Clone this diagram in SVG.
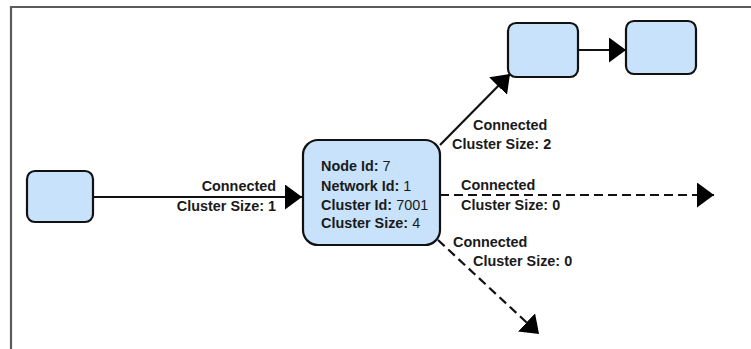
<svg xmlns="http://www.w3.org/2000/svg" width="751" height="349" viewBox="0 0 751 349">
  <style>
    .node { fill: #c8e2fb; stroke: #111111; stroke-width: 2.2; }
    .edge { fill: none; stroke: #111111; stroke-width: 2.2; marker-end: url(#arrow); }
    .dashed { stroke-dasharray: 9 5; }
    text { font-family: "Liberation Sans", Arial, sans-serif; font-size: 14.4px; fill: #1a1a1a; }
    .b { font-weight: bold; }
    .r { font-weight: normal; }
  </style>
  <defs>
    <marker id="arrow" markerUnits="userSpaceOnUse" markerWidth="18" markerHeight="26" refX="17" refY="12.5" orient="auto">
      <path d="M0,0 L17,12.5 L0,25 Z" fill="#000000"/>
    </marker>
  </defs>

  <rect width="751" height="349" fill="#ffffff"/>
  <!-- frame -->
  <path d="M11,349 V7 H751" fill="none" stroke="#5c5c5c" stroke-width="2.2"/>

  <g id="connectors">
    <path class="edge" d="M93,197 L302,197"/>
    <path class="edge" d="M578,50 L626,50"/>
    <path class="edge" d="M440,145 L510,74"/>
    <path class="edge dashed" d="M440,195 L714,195"/>
    <path class="edge dashed" d="M438,240 L539,334"/>
  </g>

  <g id="edge-labels" class="b">
    <text x="276" y="190.5" text-anchor="end">Connected</text>
    <text x="276" y="210.5" text-anchor="end">Cluster Size: 1</text>
    <text x="473" y="130">Connected</text>
    <text x="452" y="149">Cluster Size: 2</text>
    <text x="461" y="190">Connected</text>
    <text x="461" y="210">Cluster Size: 0</text>
    <text x="453" y="247">Connected</text>
    <text x="473" y="266">Cluster Size: 0</text>
  </g>

  <g id="node-left">
    <rect class="node" x="27" y="171" width="66" height="51" rx="8"/>
  </g>

  <g id="node-center">
    <rect class="node" x="303" y="140" width="137" height="105" rx="15"/>
    <text x="321" y="171"><tspan class="b">Node Id:</tspan><tspan class="r"> 7</tspan></text>
    <text x="321" y="190.5"><tspan class="b">Network Id:</tspan><tspan class="r"> 1</tspan></text>
    <text x="321" y="210"><tspan class="b">Cluster Id:</tspan><tspan class="r"> 7001</tspan></text>
    <text x="321" y="228"><tspan class="b">Cluster Size:</tspan><tspan class="r"> 4</tspan></text>
  </g>

  <g id="node-top-mid">
    <rect class="node" x="508" y="23" width="70" height="54" rx="8"/>
  </g>

  <g id="node-top-right">
    <rect class="node" x="626" y="21" width="70" height="53" rx="8"/>
  </g>
</svg>
